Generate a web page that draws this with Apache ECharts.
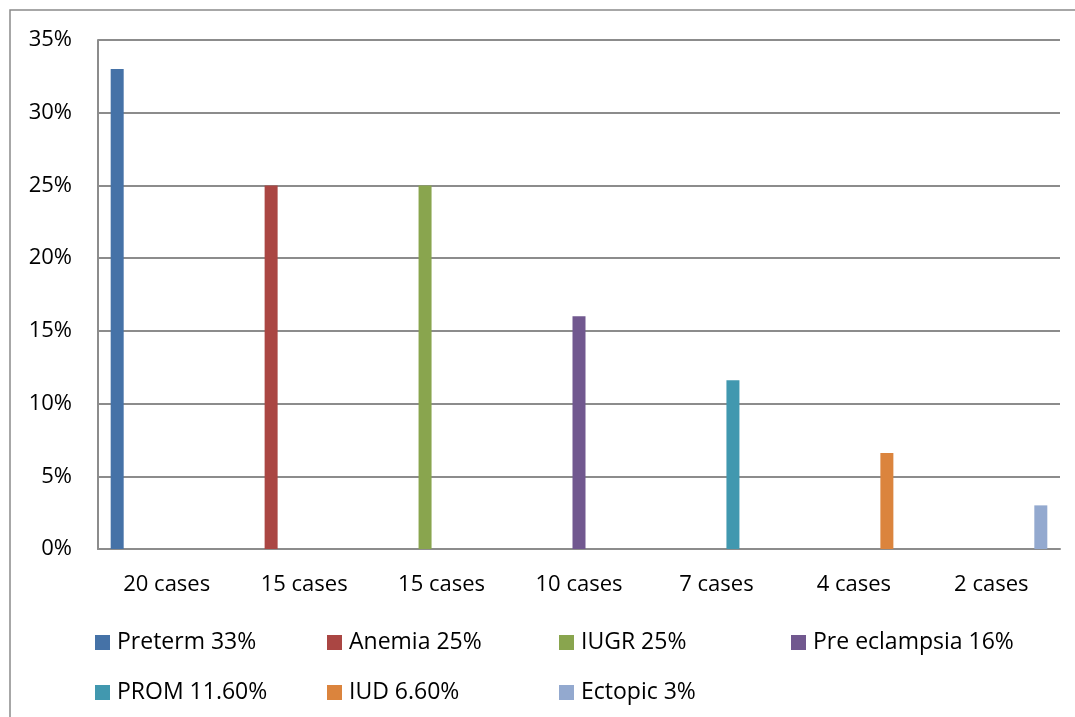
<!DOCTYPE html>
<html>
<head>
<meta charset="utf-8">
<script src="https://cdn.jsdelivr.net/npm/echarts@6/dist/echarts.min.js"></script>
<style>
html,body{margin:0;padding:0;background:#fff;}
#chart{width:1075px;height:717px;}
</style>
</head>
<body>
<div id="chart"></div>
<script>
const categories = ['20 cases', '15 cases', '15 cases', '10 cases', '7 cases', '4 cases', '2 cases'];
const seriesNames = ['Preterm 33%', 'Anemia 25%', 'IUGR 25%', 'Pre eclampsia 16%', 'PROM 11.60%', 'IUD 6.60%', 'Ectopic 3%'];
const values = [33, 25, 25, 16, 11.6, 6.6, 3];
const colors = ['#4572A7', '#AA4643', '#89A54E', '#71588F', '#4198AF', '#DB843D', '#93A9CF'];
const yTicks = [0, 5, 10, 15, 20, 25, 30, 35];

const FONT = '"Open Sans", sans-serif';
const grey = '#8c8c8c';

const series = seriesNames.map((name, i) => ({
  name: name,
  type: 'bar',
  barWidth: 13,
  barGap: '27%',
  itemStyle: { color: colors[i] },
  data: categories.map((c, j) => (j === i ? values[i] : '-')),
  animation: false
}));

const legends = seriesNames.map((name, i) => {
  const row = Math.floor(i / 4), col = i % 4;
  return {
    data: [name],
    left: 95 + col * 232,
    top: 631 + row * 50,
    padding: 0,
    itemWidth: 15,
    itemHeight: 15,
    icon: 'rect',
    selectedMode: false,
    textStyle: { fontFamily: FONT, fontSize: 23, color: '#000', padding: [0, 0, 0, 2] }
  };
});

const chart = echarts.init(document.getElementById('chart'), null, { renderer: 'canvas' });
chart.setOption({
  backgroundColor: '#fff',
  animation: false,
  color: colors,
  graphic: [{
    type: 'rect',
    shape: { x: 10, y: 10, width: 1100, height: 800 },
    style: { fill: 'none', stroke: '#8a8a8a', lineWidth: 1.5 },
    silent: true,
    z: -1
  }],
  grid: { left: 98, right: 15, top: 40, bottom: 168 },
  legend: legends,
  xAxis: {
    type: 'category',
    data: categories,
    axisLine: { show: true, lineStyle: { color: grey, width: 2 } },
    axisTick: { show: false },
    axisLabel: { fontFamily: FONT, fontSize: 22, color: '#000', margin: 25 }
  },
  yAxis: {
    type: 'value',
    min: yTicks[0],
    max: yTicks[yTicks.length - 1],
    interval: 5,
    axisLine: { show: true, lineStyle: { color: grey, width: 2 } },
    axisTick: { show: false },
    splitLine: { show: true, lineStyle: { color: grey, width: 2 } },
    axisLabel: { fontFamily: FONT, fontSize: 22, color: '#000', margin: 26, formatter: '{value}%' }
  },
  series: series
});
</script>
</body>
</html>
